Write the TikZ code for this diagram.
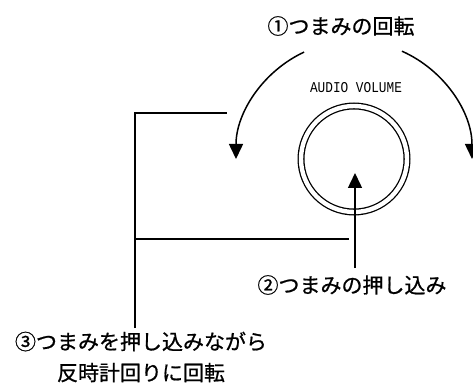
\documentclass[tikz,border=0pt]{standalone}
\usepackage{fontspec}
\newfontfamily\jpfont[FakeBold=0.8]{Noto Sans CJK JP}
\newfontfamily\panelfont[FakeStretch=0.85]{Liberation Mono}
\usetikzlibrary{arrows.meta,positioning}
\tikzset{
  lbl/.style={inner sep=0pt, align=center, font=\jpfont\fontsize{21}{31}\selectfont},
  panel/.style={inner sep=0pt, font=\panelfont\fontsize{15}{16}\selectfont},
  knob/.style={circle, draw, double, line width=1.3pt, double distance=4.4pt, minimum size=106pt, inner sep=0pt},
  arr/.style={-{Triangle[length=15pt,width=14pt]}, line width=1.5pt},
  lead/.style={line width=1.5pt}
}
\begin{document}
\begin{tikzpicture}[x=1pt,y=1pt]
\useasboundingbox (0,0) rectangle (473,383);
\node[knob] (knob) at (354,224) {};
\node[panel] (vol) at (356,295) {AUDIO VOLUME};
\node[lbl] (turn) at (341,357) {①つまみの回転};
\node[lbl] (push) at (352,98) {②つまみの押し込み};
\node[lbl] (pushturn) at (141,26) {③つまみを押し込みながら\\反時計回りに回転};

% rotation arrows round the knob
\draw[arr] (knob.center) ++(115:118) arc (115:180:118);
\draw[arr] (knob.center) ++(66:118) arc (66:0:118);

% push arrow
\coordinate (pushtip) at (355,210);
\coordinate (pushfoot) at (push.north -| pushtip);
\draw[arr] ([yshift=7pt]pushfoot) -- (pushtip);

% leader of label 3
\coordinate (legfoot) at (135,55);
\coordinate (legtop) at (135,270);
\coordinate (legarm) at (227,270);
\coordinate (legmid) at (135,144);
\coordinate (legend) at (349,144);
\draw[lead] (legfoot) -- (legtop) -- (legarm);
\draw[lead] (legmid) -- (legend);
\end{tikzpicture}
\end{document}
